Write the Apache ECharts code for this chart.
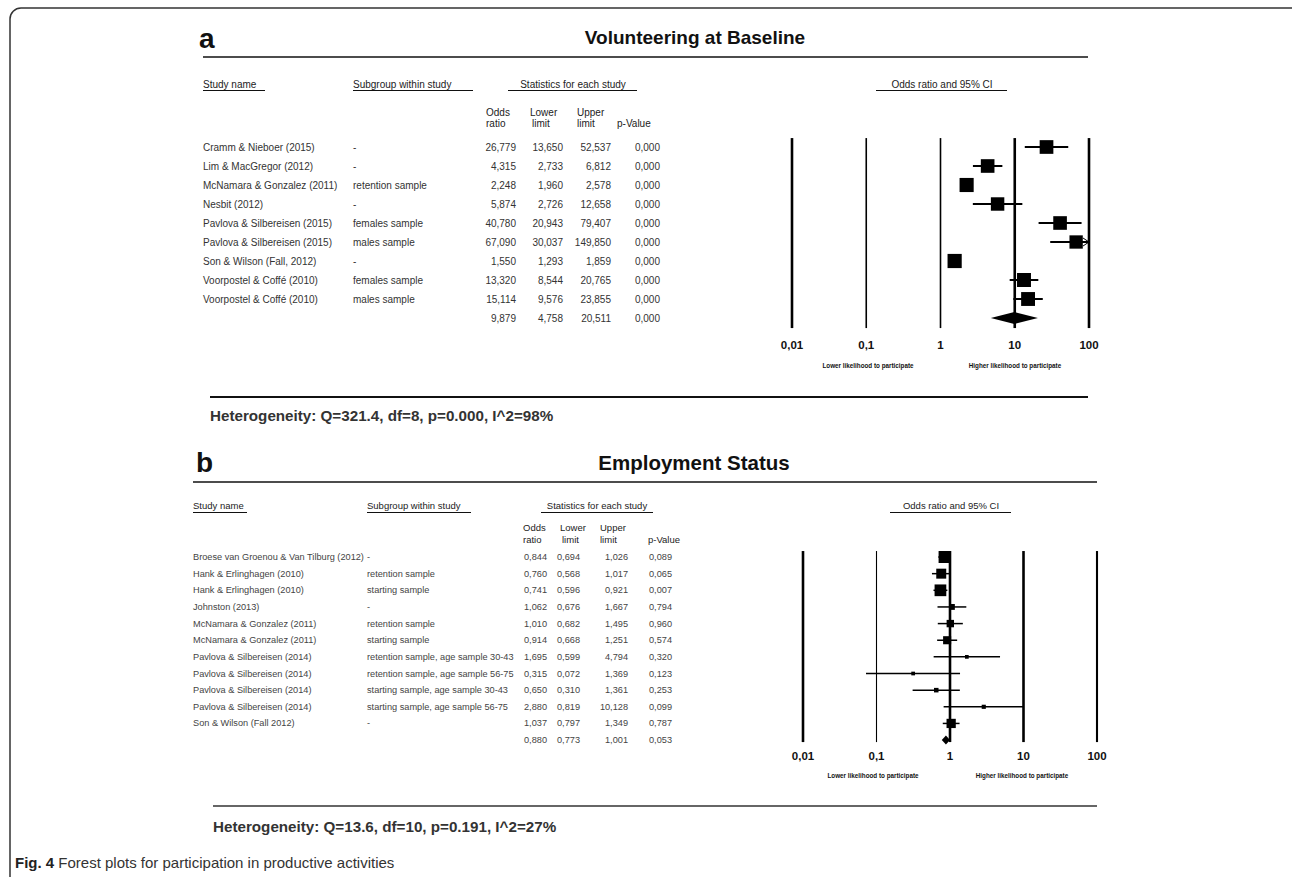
<!DOCTYPE html>
<html><head><meta charset="utf-8">
<script src="https://cdn.jsdelivr.net/npm/echarts@6/dist/echarts.min.js"></script>
<style>html,body{margin:0;padding:0;background:#fff}#c{width:1292px;height:877px}</style>
</head><body><div id="c"></div>
<script>
// ---------------- DATA : panel a (Volunteering at Baseline) ----------------
const titleA = 'Volunteering at Baseline';
const studiesA = ['Cramm & Nieboer (2015)', 'Lim & MacGregor (2012)', 'McNamara & Gonzalez (2011)', 'Nesbit (2012)',
  'Pavlova & Silbereisen (2015)', 'Pavlova & Silbereisen (2015)', 'Son & Wilson (Fall, 2012)',
  'Voorpostel & Coffé (2010)', 'Voorpostel & Coffé (2010)'];
const subgroupsA = ['-', '-', 'retention sample', '-', 'females sample', 'males sample', '-', 'females sample', 'males sample'];
const oddsA  = [26.779, 4.315, 2.248, 5.874, 40.780, 67.090, 1.550, 13.320, 15.114];
const lowerA = [13.650, 2.733, 1.960, 2.726, 20.943, 30.037, 1.293, 8.544, 9.576];
const upperA = [52.537, 6.812, 2.578, 12.658, 79.407, 149.850, 1.859, 20.765, 23.855];
const pA     = [0.000, 0.000, 0.000, 0.000, 0.000, 0.000, 0.000, 0.000, 0.000];
const weightsA = [11.0, 10.9, 11.7, 10.6, 10.9, 10.4, 11.8, 11.4, 11.3];
const summaryA = [9.879, 4.758, 20.511, 0.000];   // odds, lower, upper, p
const heterogeneityA = 'Heterogeneity: Q=321.4, df=8, p=0.000, I^2=98%';

// ---------------- DATA : panel b (Employment Status) ----------------
const titleB = 'Employment Status';
const studiesB = ['Broese van Groenou & Van Tilburg (2012)', 'Hank & Erlinghagen (2010)', 'Hank & Erlinghagen (2010)',
  'Johnston (2013)', 'McNamara & Gonzalez (2011)', 'McNamara & Gonzalez (2011)',
  'Pavlova & Silbereisen (2014)', 'Pavlova & Silbereisen (2014)', 'Pavlova & Silbereisen (2014)',
  'Pavlova & Silbereisen (2014)', 'Son & Wilson (Fall 2012)'];
const subgroupsB = ['-', 'retention sample', 'starting sample', '-', 'retention sample', 'starting sample',
  'retention sample, age sample 30-43', 'retention sample, age sample 56-75',
  'starting sample, age sample 30-43', 'starting sample, age sample 56-75', '-'];
const oddsB  = [0.844, 0.760, 0.741, 1.062, 1.010, 0.914, 1.695, 0.315, 0.650, 2.880, 1.037];
const lowerB = [0.694, 0.568, 0.596, 0.676, 0.682, 0.668, 0.599, 0.072, 0.310, 0.819, 0.797];
const upperB = [1.026, 1.017, 0.921, 1.667, 1.495, 1.251, 4.794, 1.369, 1.361, 10.128, 1.349];
const pB     = [0.089, 0.065, 0.007, 0.794, 0.960, 0.574, 0.320, 0.123, 0.253, 0.099, 0.787];
const weightsB = [21, 14.5, 20, 5, 8, 9.5, 2, 2, 3, 2.5, 12.5];
const summaryB = [0.880, 0.773, 1.001, 0.053];
const heterogeneityB = 'Heterogeneity: Q=13.6, df=10, p=0.191, I^2=27%';

// axis ticks (odds ratio, log scale)
const tickValues = [0.01, 0.1, 1, 10, 100];
const caption = ['Fig. 4', ' Forest plots for participation in productive activities'];

// ---------------- LAYOUT / STYLE ----------------
const FONT = 'Liberation Sans, Arial, Helvetica, sans-serif';
const X_MIN = 0.01, X_MAX = 100;
const P = {
  a: { grid: {left: 792, right: 1292 - 1089, top: 137.5, height: 190},
       lineExt: [-0.47, 9.53], lineW: [2.6, 1.6, 1.6, 2.6, 2.6], sizeK: 4.13, ciW: 2, diamondH: 6,
       col: {name: 203, sub: 353, or: 516, lo: 563, hi: 611, p: 660}, font: '10px ' + FONT, color: '#333', labelMargin: 11 },
  b: { grid: {left: 803, right: 1292 - 1097, top: 548.7, height: 199.7},
       lineExt: [-0.36, 11.12], lineW: [2.6, 1.1, 2.6, 2.6, 2.1], sizeK: 2.62, ciW: 1.5, diamondH: 4.5,
       col: {name: 193, sub: 367, or: 547, lo: 580, hi: 628, p: 672}, font: '9.2px ' + FONT, color: '#444', labelMargin: 2 }
};

const fmt = v => v.toFixed(3).replace('.', ',');

function tableItem(studies, subs, odds, lo, hi, pv, summ, cfg) {
  return function (params, api) {
    const i = params.dataIndex;
    const y = api.coord([1, api.value(1)])[1];
    const isSum = i >= studies.length;
    const vals = isSum ? summ : [odds[i], lo[i], hi[i], pv[i]];
    const t = (text, x, align) => ({type: 'text', style: {text, x, y, font: cfg.font, fill: cfg.color, align, verticalAlign: 'middle'}});
    const ch = [];
    if (!isSum) { ch.push(t(studies[i], cfg.col.name, 'left')); ch.push(t(subs[i], cfg.col.sub, 'left')); }
    ch.push(t(fmt(vals[0]), cfg.col.or, 'right'));
    ch.push(t(fmt(vals[1]), cfg.col.lo, 'right'));
    ch.push(t(fmt(vals[2]), cfg.col.hi, 'right'));
    ch.push(t(fmt(vals[3]), cfg.col.p, 'right'));
    return {type: 'group', children: ch};
  };
}

function forestItem(cfg) {
  return function (params, api) {
    const or = api.value(0), row = api.value(1), lo = api.value(2), hi = api.value(3), w = api.value(4);
    const c = api.coord([or, row]);
    const xl = api.coord([Math.max(lo, X_MIN), row])[0];
    const xh = api.coord([Math.min(hi, X_MAX), row])[0];
    const s = cfg.sizeK * Math.sqrt(w);
    const ch = [
      {type: 'line', shape: {x1: xl, y1: c[1], x2: xh, y2: c[1]}, style: {stroke: '#000', lineWidth: cfg.ciW}},
      {type: 'rect', shape: {x: c[0] - s / 2, y: c[1] - s / 2, width: s, height: s}, style: {fill: '#000'}}
    ];
    if (hi > X_MAX) ch.push({type: 'polyline', shape: {points: [[xh - 6, c[1] - 4], [xh, c[1]], [xh - 6, c[1] + 4]]},
      style: {stroke: '#000', fill: 'none', lineWidth: 1}});
    return {type: 'group', children: ch};
  };
}

function diamondItem(cfg) {
  return function (params, api) {
    const or = api.value(0), row = api.value(1), lo = api.value(2), hi = api.value(3);
    const c = api.coord([or, row]), l = api.coord([lo, row]), h = api.coord([hi, row]);
    return {type: 'polygon', shape: {points: [[l[0], c[1]], [c[0], c[1] - cfg.diamondH], [h[0], c[1]], [c[0], c[1] + cfg.diamondH]]},
      style: {fill: '#000'}};
  };
}

function refLineItem(cfg) {
  return function (params, api) {
    const v = api.value(0);
    const a = api.coord([v, cfg.lineExt[0]]), b = api.coord([v, cfg.lineExt[1]]);
    return {type: 'line', shape: {x1: a[0], y1: a[1], x2: b[0], y2: b[1]},
      style: {stroke: '#000', lineWidth: cfg.lineW[params.dataIndex]}};
  };
}

function panelSeries(idx, studies, subs, odds, lo, hi, pv, w, summ, cfg) {
  const n = studies.length;
  return [
    {type: 'custom', xAxisIndex: idx, yAxisIndex: idx, renderItem: refLineItem(cfg),
     data: tickValues.map(v => [v, 0]), encode: {x: 0, y: 1}, silent: true},
    {type: 'custom', xAxisIndex: idx, yAxisIndex: idx, renderItem: forestItem(cfg),
     data: odds.map((o, i) => [o, i, lo[i], hi[i], w[i]]), encode: {x: 0, y: 1}, clip: false},
    {type: 'custom', xAxisIndex: idx, yAxisIndex: idx, renderItem: diamondItem(cfg),
     data: [[summ[0], n, summ[1], summ[2]]], encode: {x: 0, y: 1}},
    {type: 'custom', xAxisIndex: idx, yAxisIndex: idx, renderItem: tableItem(studies, subs, odds, lo, hi, pv, summ, cfg),
     data: odds.map((o, i) => [1, i]).concat([[1, n]]), encode: {x: 0, y: 1}, clip: false, silent: true}
  ];
}

function xAxisFor(idx, cfg) {
  return {type: 'log', logBase: 10, min: X_MIN, max: X_MAX, gridIndex: idx,
    axisLine: {show: false}, axisTick: {show: false}, splitLine: {show: false},
    axisLabel: {margin: cfg.labelMargin, color: '#111', fontFamily: FONT, fontSize: 11.5, fontWeight: 'bold',
      formatter: v => String(+(+v).toPrecision(3)).replace('.', ',')}};
}
function yAxisFor(idx, n) {
  return {type: 'value', gridIndex: idx, min: -0.5, max: n + 0.5, inverse: true, show: false};
}

// ---- static text helpers
const txt = (text, x, y, opt = {}) => ({type: 'text', silent: true, style: Object.assign({
  text, x, y, font: '10px ' + FONT, fill: '#222', align: 'left', verticalAlign: 'middle'}, opt)});
const rule = (x1, x2, y, lw = 1.3, color = '#111') => ({type: 'line', silent: true,
  shape: {x1, y1: y, x2, y2: y}, style: {stroke: color, lineWidth: lw}});

const graphics = [
  {type: 'rect', silent: true, shape: {x: 10, y: 8, width: 1300, height: 890, r: 11}, style: {fill: 'none', stroke: '#333', lineWidth: 1.5}},
  // panel a
  txt('a', 199, 38, {font: 'bold 28px ' + FONT, fill: '#111'}),
  txt(titleA, 695, 37, {font: 'bold 19px ' + FONT, fill: '#111', align: 'center'}),
  rule(203, 1088, 57, 1.6),
  txt('Study name', 203, 84), rule(203, 265, 90.5, 1.2),
  txt('Subgroup within study', 353, 84), rule(353, 473, 90.5, 1.2),
  txt('Statistics for each study', 573, 84, {align: 'center'}), rule(508, 637, 90.5, 1.2),
  txt('Odds ratio and 95% CI', 942, 84, {align: 'center'}), rule(876, 1007, 90.5, 1.2),
  txt('Odds', 486, 112), txt('ratio', 486, 123.5),
  txt('Lower', 530, 112), txt('limit', 532, 123.5),
  txt('Upper', 577, 112), txt('limit', 577, 123.5),
  txt('p-Value', 617, 123.5),
  txt('Lower likelihood to participate', 868, 365, {font: 'bold 6.3px ' + FONT, align: 'center', fill: '#111'}),
  txt('Higher likelihood to participate', 1015, 365, {font: 'bold 6.3px ' + FONT, align: 'center', fill: '#111'}),
  rule(210, 1088, 397, 2, '#111'),
  txt(heterogeneityA, 210, 415, {font: 'bold 15.2px ' + FONT, fill: '#333'}),
  // panel b
  txt('b', 196, 462, {font: 'bold 28px ' + FONT, fill: '#111'}),
  txt(titleB, 694, 462, {font: 'bold 20.5px ' + FONT, fill: '#111', align: 'center'}),
  rule(193, 1097, 482, 1.6),
  txt('Study name', 193, 505, {font: '9.5px ' + FONT}), rule(193, 247, 512.5, 1.2),
  txt('Subgroup within study', 367, 505, {font: '9.5px ' + FONT}), rule(367, 471, 512.5, 1.2),
  txt('Statistics for each study', 597, 505, {font: '9.5px ' + FONT, align: 'center'}), rule(541, 653, 512.5, 1.2),
  txt('Odds ratio and 95% CI', 951, 505, {font: '9.5px ' + FONT, align: 'center'}), rule(890, 1011, 512.5, 1.2),
  txt('Odds', 523, 527, {font: '9.5px ' + FONT}), txt('ratio', 523, 539, {font: '9.5px ' + FONT}),
  txt('Lower', 560, 527, {font: '9.5px ' + FONT}), txt('limit', 562, 539, {font: '9.5px ' + FONT}),
  txt('Upper', 600, 527, {font: '9.5px ' + FONT}), txt('limit', 600, 539, {font: '9.5px ' + FONT}),
  txt('p-Value', 648, 539, {font: '9.5px ' + FONT}),
  txt('Lower likelihood to participate', 873, 775, {font: 'bold 6.3px ' + FONT, align: 'center', fill: '#111'}),
  txt('Higher likelihood to participate', 1022, 775, {font: 'bold 6.3px ' + FONT, align: 'center', fill: '#111'}),
  rule(213, 1097, 806, 1.6, '#333'),
  txt(heterogeneityB, 213, 826, {font: 'bold 15.2px ' + FONT, fill: '#333'}),
  // caption
  {type: 'text', silent: true, style: {x: 15, y: 862, verticalAlign: 'middle',
    text: '{b|' + caption[0] + '}{n|' + caption[1] + '}',
    rich: {b: {font: 'bold 15px ' + FONT, fill: '#222'}, n: {font: '15px ' + FONT, fill: '#333'}}}}
];

const chart = echarts.init(document.getElementById('c'), null, {renderer: 'svg', width: 1292, height: 877});
chart.setOption({
  backgroundColor: '#fff',
  animation: false,
  grid: [Object.assign({}, P.a.grid), Object.assign({}, P.b.grid)],
  xAxis: [xAxisFor(0, P.a), xAxisFor(1, P.b)],
  yAxis: [yAxisFor(0, studiesA.length), yAxisFor(1, studiesB.length)],
  series: [].concat(
    panelSeries(0, studiesA, subgroupsA, oddsA, lowerA, upperA, pA, weightsA, summaryA, P.a),
    panelSeries(1, studiesB, subgroupsB, oddsB, lowerB, upperB, pB, weightsB, summaryB, P.b)
  ),
  graphic: graphics
});
</script></body></html>
